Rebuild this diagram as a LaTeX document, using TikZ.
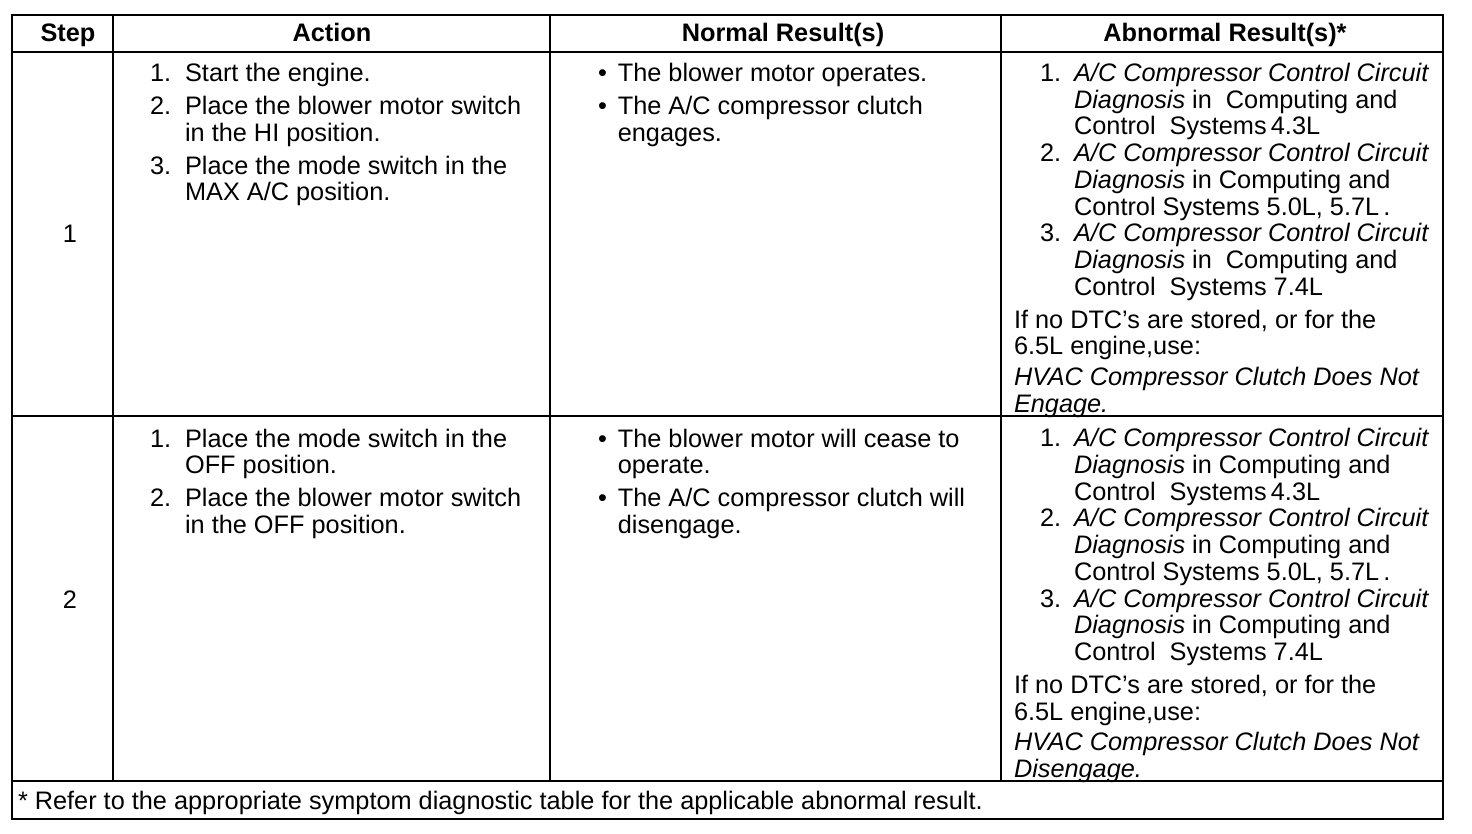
\documentclass[tikz,border=0pt]{standalone}
\usepackage{fontspec}
\setmainfont{Liberation Sans}
\usepackage{tikz}
\usetikzlibrary{positioning}

\newcommand{\cellfont}{\fontsize{25.3}{26.75}\selectfont}
\tikzset{
    rule/.style={black, line width=2pt},
    frame/.style={black, line width=2.6pt},
    cell/.style={anchor=base west, inner sep=0pt, outer sep=0pt, font=\cellfont},
    head/.style={anchor=base, inner sep=0pt, outer sep=0pt, font=\cellfont\bfseries},
    stepno/.style={anchor=base, inner sep=0pt, outer sep=0pt, font=\cellfont},
}

\begin{document}
\begin{tikzpicture}[x=1pt, y=-1pt]
    \useasboundingbox (0,0) rectangle (1472,834);

    \coordinate (tl) at (12,15);
    \coordinate (br) at (1443,819);

    % column lines
    \foreach \x in {113,550,1001}
    {
        \draw[rule] (\x,15) -- (\x,781);
    }

    % row lines
    \foreach \y in {52,416}
    {
        \draw[rule] (12,\y) -- (1443,\y);
    }
    \draw[frame] (12,781) -- (1443,781);

    % border
    \draw[frame] (tl) rectangle (br);

    % header
    \foreach \name/\x/\txt in {
        hstep/68/Step,
        haction/332/Action,
        hnormal/783/Normal Result(s),
        habnormal/1225/Abnormal Result(s)*}{

        \node[head] (\name) at (\x,42) {\txt};
    }

    % step numbers
    \node[stepno] (step1) at (70,243) {1};
    \node[stepno] (step2) at (70,608) {2};

    % step 1
    \node[cell] (act1) at (150,82) {\begin{tabular}[t]{@{}l@{\hspace{14pt}}l@{}}
        1. & Start the engine.\\[6pt]
        2. & Place the blower motor switch\\
           & in the HI position.\\[6pt]
        3. & Place the mode switch in the\\
           & MAX A/C position.
    \end{tabular}};

    \node[cell] (norm1) at (598,82) {\begin{tabular}[t]{@{}l@{\hspace{11pt}}l@{}}
        • & The blower motor operates.\\[6pt]
        • & The A/C compressor clutch\\
          & engages.
    \end{tabular}};

    \node[cell] (abn1) at (1014,81.5) {\begin{tabular}[t]{@{\hspace{26pt}}l@{\hspace{13pt}}l@{}}
        1. & \textit{A/C Compressor Control Circuit}\\
           & \textit{Diagnosis} in\ \ Computing and\\
           & Control\ \ Systems\,4.3L\\
        2. & \textit{A/C Compressor Control Circuit}\\
           & \textit{Diagnosis} in Computing and\\
           & Control Systems 5.0L, 5.7L\,.\\
        3. & \textit{A/C Compressor Control Circuit}\\
           & \textit{Diagnosis} in\ \ Computing and\\
           & Control\ \ Systems 7.4L\\[6pt]
        \multicolumn{2}{@{}l@{}}{If no DTC's are stored, or for the}\\
        \multicolumn{2}{@{}l@{}}{6.5L engine,use:}\\[4pt]
        \multicolumn{2}{@{}l@{}}{\textit{HVAC Compressor Clutch Does Not}}\\
        \multicolumn{2}{@{}l@{}}{\textit{Engage.}}
    \end{tabular}};

    % step 2
    \node[cell] (act2) at (150,447) {\begin{tabular}[t]{@{}l@{\hspace{14pt}}l@{}}
        1. & Place the mode switch in the\\
           & OFF position.\\[6pt]
        2. & Place the blower motor switch\\
           & in the OFF position.
    \end{tabular}};

    \node[cell] (norm2) at (598,447) {\begin{tabular}[t]{@{}l@{\hspace{11pt}}l@{}}
        • & The blower motor will cease to\\
          & operate.\\[6pt]
        • & The A/C compressor clutch will\\
          & disengage.
    \end{tabular}};

    \node[cell] (abn2) at (1014,446.5) {\begin{tabular}[t]{@{\hspace{26pt}}l@{\hspace{13pt}}l@{}}
        1. & \textit{A/C Compressor Control Circuit}\\
           & \textit{Diagnosis} in Computing and\\
           & Control\ \ Systems\,4.3L\\
        2. & \textit{A/C Compressor Control Circuit}\\
           & \textit{Diagnosis} in Computing and\\
           & Control Systems 5.0L, 5.7L\,.\\
        3. & \textit{A/C Compressor Control Circuit}\\
           & \textit{Diagnosis} in Computing and\\
           & Control\ \ Systems 7.4L\\[6pt]
        \multicolumn{2}{@{}l@{}}{If no DTC's are stored, or for the}\\
        \multicolumn{2}{@{}l@{}}{6.5L engine,use:}\\[4pt]
        \multicolumn{2}{@{}l@{}}{\textit{HVAC Compressor Clutch Does Not}}\\
        \multicolumn{2}{@{}l@{}}{\textit{Disengage.}}
    \end{tabular}};

    % footnote
    \node[cell] (foot) at (18,809) {* Refer to the appropriate symptom diagnostic table for the applicable abnormal result.};
\end{tikzpicture}
\end{document}
